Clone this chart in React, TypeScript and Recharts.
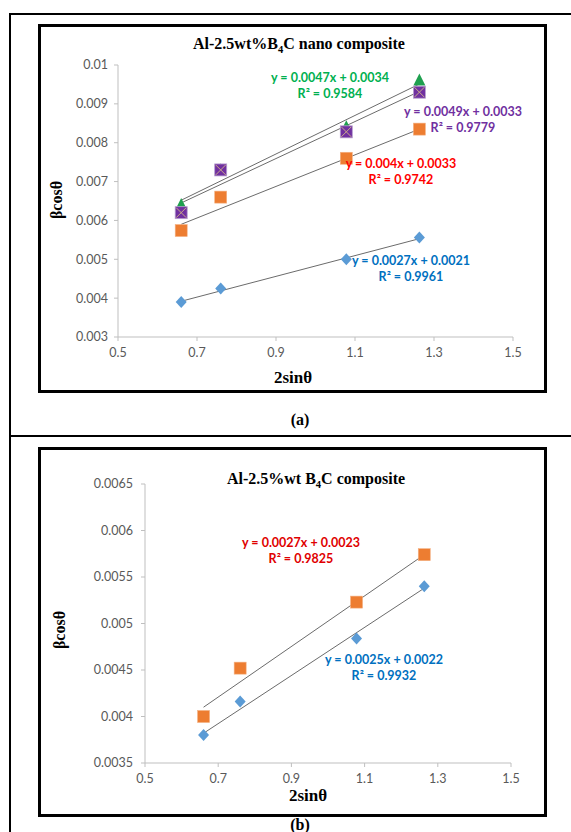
import React from "react";
import {
  ScatterChart,
  Scatter,
  XAxis,
  YAxis,
  ReferenceLine,
} from "recharts";

// shared x values (2sinθ)
const xA = [0.66, 0.76, 1.078, 1.263];

// panel (a): Al-2.5wt%B4C nano composite
const blueA = [0.0039, 0.00425, 0.005, 0.00556];
const orangeA = [0.00574, 0.0066, 0.0076, 0.00835];
const purpleA = [0.0062, 0.0073, 0.00828, 0.0093];
const greenA = [0.0064, 0.00729, 0.0084, 0.0096];

// trend line endpoints [x0, y0, x1, y1]
const trendBlueA = [0.66, 0.00392, 1.263, 0.00553];
const trendOrangeA = [0.66, 0.0059, 1.263, 0.00835];
const trendPurpleA = [0.66, 0.00645, 1.263, 0.00932];
const trendGreenA = [0.66, 0.00652, 1.263, 0.00951];

// panel (b): Al-2.5%wt B4C composite
const orangeB = [0.004, 0.00452, 0.00523, 0.00574];
const blueB = [0.0038, 0.00416, 0.00484, 0.0054];
const trendOrangeB = [0.66, 0.0041, 1.263, 0.00574];
const trendBlueB = [0.66, 0.00382, 1.263, 0.00538];

const xTicks = [0.5, 0.7, 0.9, 1.1, 1.3, 1.5];
const xTickLabels = ["0.5", "0.7", "0.9", "1.1", "1.3", "1.5"];
const yTicksA = [0.003, 0.004, 0.005, 0.006, 0.007, 0.008, 0.009, 0.01];
const yTickLabelsA = ["0.003", "0.004", "0.005", "0.006", "0.007", "0.008", "0.009", "0.01"];
const yTicksB = [0.0035, 0.004, 0.0045, 0.005, 0.0055, 0.006, 0.0065];
const yTickLabelsB = ["0.0035", "0.004", "0.0045", "0.005", "0.0055", "0.006", "0.0065"];

const toPoints = (xs: number[], ys: number[]) => xs.map((x, i) => ({ x, y: ys[i] }));

const Diamond = (fill: string) => (p: any) => (
  <polygon
    points={`${p.cx},${p.cy - 6} ${p.cx + 5.5},${p.cy} ${p.cx},${p.cy + 6} ${p.cx - 5.5},${p.cy}`}
    fill={fill}
  />
);
const Square = (fill: string) => (p: any) => (
  <rect x={p.cx - 6} y={p.cy - 6} width={12} height={12} fill={fill} stroke="#f4b183" strokeWidth={0.6} />
);
const XSquare = (fill: string) => (p: any) => (
  <g>
    <rect x={p.cx - 6} y={p.cy - 6} width={12} height={12} fill={fill} stroke="#b9a0d0" strokeWidth={0.8} />
    <line x1={p.cx - 5} y1={p.cy - 5} x2={p.cx + 5} y2={p.cy + 5} stroke="#c9a98a" strokeWidth={1} />
    <line x1={p.cx + 5} y1={p.cy - 5} x2={p.cx - 5} y2={p.cy + 5} stroke="#c9a98a" strokeWidth={1} />
  </g>
);
const Triangle = (fill: string) => (p: any) => (
  <polygon points={`${p.cx},${p.cy - 7} ${p.cx + 6},${p.cy + 5} ${p.cx - 6},${p.cy + 5}`} fill={fill} />
);

const tickStyle = { fill: "#595959", fontSize: 12.5, fontFamily: "Lato, 'Open Sans', sans-serif" };
const axisGray = "#bfbfbf";
const serif = "'Liberation Serif', 'DejaVu Serif', serif";
const eqFont = "Lato, 'Open Sans', sans-serif";

const Trend = ({ t }: { t: number[] }) => (
  <ReferenceLine
    segment={[
      { x: t[0], y: t[1] },
      { x: t[2], y: t[3] },
    ]}
    stroke="#6b6b6b"
    strokeWidth={1}
    ifOverflow="visible"
  />
);

const Eq = ({ left, top, color, lines }: { left: number; top: number; color: string; lines: string[] }) => (
  <div
    style={{
      position: "absolute",
      left,
      top,
      color,
      fontFamily: eqFont,
      fontWeight: 700,
      fontSize: 12.5,
      lineHeight: "16px",
      textAlign: "center",
      whiteSpace: "nowrap",
      transform: "translateX(-50%)",
    }}
  >
    {lines.map((l, i) => (
      <div key={i}>{l}</div>
    ))}
  </div>
);

const Text = ({ left, top, size, children, rotate }: any) => (
  <div
    style={{
      position: "absolute",
      left,
      top,
      fontFamily: serif,
      fontWeight: 700,
      fontSize: size,
      whiteSpace: "nowrap",
      transform: rotate ? "translate(-50%, -50%) rotate(-90deg)" : "translate(-50%, -50%)",
    }}
  >
    {children}
  </div>
);

const Box = ({ left, top, width, height }: any) => (
  <div
    style={{
      position: "absolute",
      left,
      top,
      width,
      height,
      border: "3px solid #000",
      boxSizing: "border-box",
      pointerEvents: "none",
    }}
  />
);

const xAxisProps = {
  type: "number" as const,
  dataKey: "x",
  domain: [0.5, 1.5],
  ticks: xTicks,
  tickFormatter: (v: number) => xTickLabels[xTicks.indexOf(v)],
  tick: tickStyle,
  stroke: axisGray,
  tickSize: 4,
  tickMargin: 7,
  height: 30,
  allowDataOverflow: true,
};

export default function App() {
  return (
    <div style={{ position: "absolute", left: 0, top: 0, width: 571, height: 832, overflow: "hidden", background: "#fff" }}>
      {/* table borders */}
      <div style={{ position: "absolute", left: 9, top: 13, width: 600, height: 840, borderLeft: "2px solid #000", borderTop: "2px solid #000" }} />
      <div style={{ position: "absolute", left: 9, top: 435, width: 600, height: 0, borderTop: "2px solid #000" }} />

      {/* panel (a) */}
      <div style={{ position: "absolute", left: 38, top: 24 }}>
        <ScatterChart width={509} height={368} margin={{ top: 41, right: 34, left: 20, bottom: 25 }}>
          <XAxis {...xAxisProps} />
          <YAxis
            type="number"
            dataKey="y"
            domain={[0.003, 0.01]}
            ticks={yTicksA}
            tickFormatter={(v: number) => yTickLabelsA[yTicksA.indexOf(v)]}
            tick={tickStyle}
            stroke={axisGray}
            tickSize={4}
            tickMargin={6}
            width={60}
            allowDataOverflow
          />
          <Trend t={trendBlueA} />
          <Trend t={trendOrangeA} />
          <Trend t={trendPurpleA} />
          <Trend t={trendGreenA} />
          <Scatter data={toPoints(xA, greenA)} shape={Triangle("#1fa04f")} isAnimationActive={false} />
          <Scatter data={toPoints(xA, blueA)} shape={Diamond("#5b9bd5")} isAnimationActive={false} />
          <Scatter data={toPoints(xA, orangeA)} shape={Square("#ed7d31")} isAnimationActive={false} />
          <Scatter data={toPoints(xA, purpleA)} shape={XSquare("#7030a0")} isAnimationActive={false} />
        </ScatterChart>
      </div>
      <Box left={38} top={24} width={509} height={369} />
      <Text left={299} top={45} size={16}>
        Al-2.5wt%B<sub style={{ fontSize: 10.5 }}>4</sub>C nano composite
      </Text>
      <Text left={293} top={378} size={17}>2sinθ</Text>
      <Text left={57} top={200} size={16} rotate>βcosθ</Text>
      <Eq left={330} top={70} color="#00b050" lines={["y = 0.0047x + 0.0034", "R² = 0.9584"]} />
      <Eq left={463} top={104} color="#7030a0" lines={["y = 0.0049x + 0.0033", "R² = 0.9779"]} />
      <Eq left={401} top={156} color="#ff0000" lines={["y = 0.004x + 0.0033", "R² = 0.9742"]} />
      <Eq left={411} top={253} color="#0070c0" lines={["y = 0.0027x + 0.0021", "R² = 0.9961"]} />
      <Text left={300} top={420} size={16}>
        (<span>a</span>)
      </Text>

      {/* panel (b) */}
      <div style={{ position: "absolute", left: 38, top: 447 }}>
        <ScatterChart width={509} height={369} margin={{ top: 37, right: 36, left: 37, bottom: 23 }}>
          <XAxis {...xAxisProps} />
          <YAxis
            type="number"
            dataKey="y"
            domain={[0.0035, 0.0065]}
            ticks={yTicksB}
            tickFormatter={(v: number) => yTickLabelsB[yTicksB.indexOf(v)]}
            tick={tickStyle}
            stroke={axisGray}
            tickSize={4}
            tickMargin={8}
            width={70}
            allowDataOverflow
          />
          <Trend t={trendOrangeB} />
          <Trend t={trendBlueB} />
          <Scatter data={toPoints(xA, blueB)} shape={Diamond("#5b9bd5")} isAnimationActive={false} />
          <Scatter data={toPoints(xA, orangeB)} shape={Square("#ed7d31")} isAnimationActive={false} />
        </ScatterChart>
      </div>
      <Box left={38} top={447} width={509} height={370} />
      <Text left={316} top={480} size={16}>
        Al-2.5%wt B<sub style={{ fontSize: 10.5 }}>4</sub>C composite
      </Text>
      <Text left={308} top={796} size={17}>2sinθ</Text>
      <Text left={60} top={630} size={16} rotate>βcosθ</Text>
      <Eq left={301} top={535} color="#e00000" lines={["y = 0.0027x + 0.0023", "R² = 0.9825"]} />
      <Eq left={384} top={652} color="#0070c0" lines={["y = 0.0025x + 0.0022", "R² = 0.9932"]} />
      <Text left={300} top={825} size={16}>
        (<span>b</span>)
      </Text>
    </div>
  );
}
